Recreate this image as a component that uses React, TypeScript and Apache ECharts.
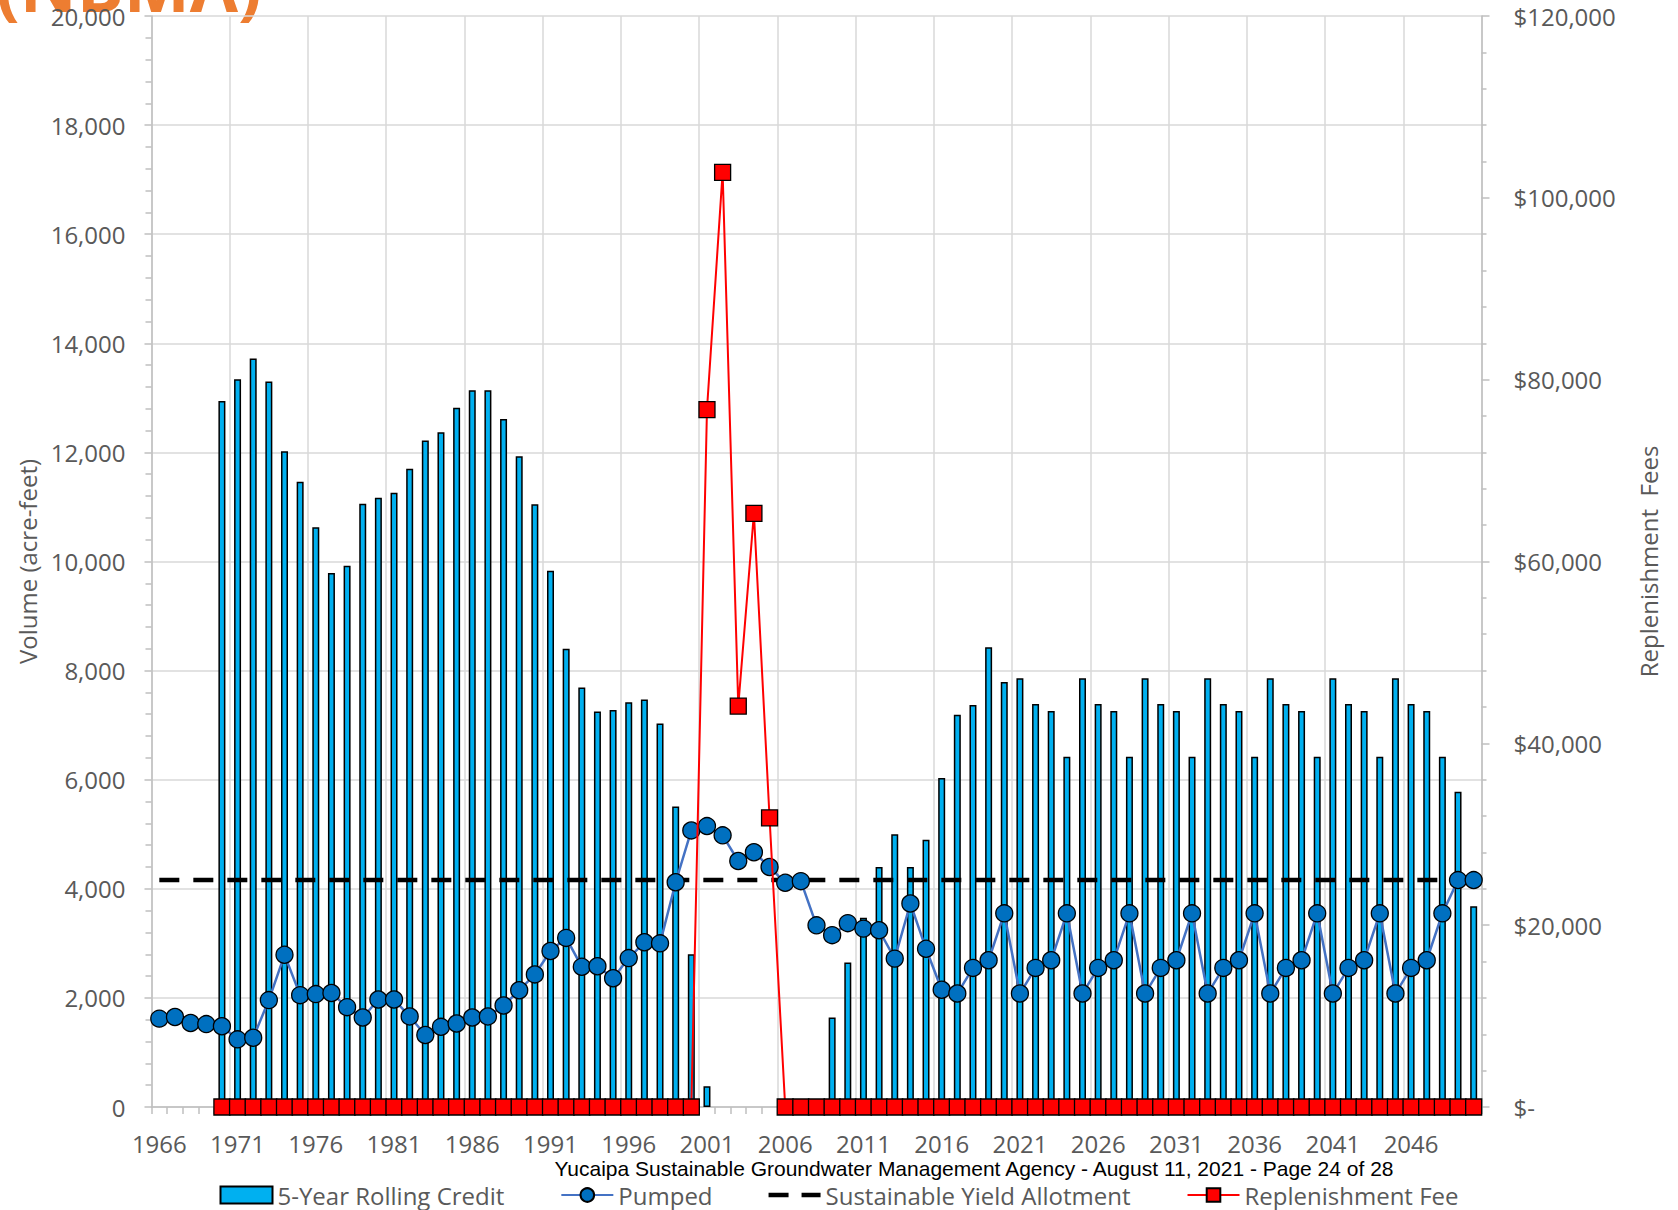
import { useEffect, useRef } from "react";
import * as echarts from "echarts";

const years = [
  "1966", "1967", "1968", "1969", "1970", "1971", "1972", "1973", "1974", "1975",
  "1976", "1977", "1978", "1979", "1980", "1981", "1982", "1983", "1984", "1985",
  "1986", "1987", "1988", "1989", "1990", "1991", "1992", "1993", "1994", "1995",
  "1996", "1997", "1998", "1999", "2000", "2001", "2002", "2003", "2004", "2005",
  "2006", "2007", "2008", "2009", "2010", "2011", "2012", "2013", "2014", "2015",
  "2016", "2017", "2018", "2019", "2020", "2021", "2022", "2023", "2024", "2025",
  "2026", "2027", "2028", "2029", "2030", "2031", "2032", "2033", "2034", "2035",
  "2036", "2037", "2038", "2039", "2040", "2041", "2042", "2043", "2044", "2045",
  "2046", "2047", "2048", "2049", "2050",
];

// 5-Year Rolling Credit (acre-feet)
const rollingCredit: (number | null)[] = [
  null, null, null, null,
  12940, 13340, 13720, 13300, 12020, 11460, 10630, 9790, 9920, 11060,
  11170, 11260, 11700, 12220, 12370, 12820, 13140, 13140, 12610, 11930,
  11050, 9830, 8400, 7690, 7250, 7280, 7420, 7470, 7030, 5510,
  2800, 380,
  null, null, null, null, null, null, null,
  1640, 2650, 3470, 4400, 5000, 4400, 4900, 6030, 7190, 7370,
  8430, 7790, 7860, 7390, 7260, 6420,
  7860, 7390, 7260, 6420, 7860, 7390, 7260, 6420,
  7860, 7390, 7260, 6420, 7860, 7390, 7260, 6420,
  7860, 7390, 7260, 6420, 7860, 7390, 7260, 6420,
  5780, 3680,
];

// Pumped (acre-feet)
const pumped: number[] = [
  1620, 1650, 1540, 1520, 1480, 1240, 1270, 1960, 2790, 2050,
  2070, 2090, 1830, 1640, 1970, 1970, 1660, 1320, 1470, 1530,
  1640, 1660, 1860, 2140, 2430, 2860, 3100, 2570, 2580, 2360,
  2730, 3020, 3000, 4120, 5070, 5150, 4980, 4510, 4670, 4400,
  4110, 4140, 3330, 3150, 3370, 3270, 3240, 2720, 3730, 2900,
  2150, 2080, 2550, 2690, 3550,
  2080, 2550, 2690, 3550, 2080, 2550, 2690, 3550,
  2080, 2550, 2690, 3550, 2080, 2550, 2690, 3550,
  2080, 2550, 2690, 3550, 2080, 2550, 2690, 3550,
  2080, 2550, 2690, 3550,
  4160, 4160,
];

// Sustainable Yield Allotment (acre-feet), constant
const sustainableYield = 4160;

// Replenishment Fee ($)
const replenishmentFee: (number | null)[] = [
  null, null, null, null,
  0, 0, 0, 0, 0, 0, 0, 0, 0, 0,
  0, 0, 0, 0, 0, 0, 0, 0, 0, 0,
  0, 0, 0, 0, 0, 0, 0, 0, 0, 0,
  0,
  76700, 102800, 44100, 65300, 31800,
  0, 0, 0, 0, 0, 0, 0, 0, 0, 0,
  0, 0, 0, 0, 0, 0, 0, 0, 0, 0,
  0, 0, 0, 0, 0, 0, 0, 0, 0, 0,
  0, 0, 0, 0, 0, 0, 0, 0, 0, 0,
  0, 0, 0, 0, 0,
];

const volumeAxis = { min: 0, max: 20000, interval: 2000 };
const feeAxis = { min: 0, max: 120000, interval: 20000 };

const titleText = "(NBMA)";
const captionText =
  "Yucaipa Sustainable Groundwater Management Agency - August 11, 2021 - Page 24 of 28";

const GRAY_TEXT = "#595959";
const AXIS_GRAY = "#BFBFBF";
const GRID_GRAY = "#D9D9D9";
const FONT = "'Open Sans', sans-serif";

// legend icon: two black dashes
const DASH_ICON = "path://M0,0L20,0L20,4.5L0,4.5Z M33,0L52,0L52,4.5L33,4.5Z";

export default function App() {
  const ref = useRef<HTMLDivElement | null>(null);

  useEffect(() => {
    if (!ref.current) return;
    const chart = echarts.init(ref.current, undefined, { renderer: "svg" });

    const yieldLine = years.map(() => sustainableYield);

    const option: any = {
      animation: false,
      backgroundColor: "#ffffff",
      textStyle: { fontFamily: FONT },
      grid: { left: 151.5, top: 16, width: 1330, height: 1091, containLabel: false },
      xAxis: {
        type: "category",
        data: years,
        boundaryGap: true,
        axisLine: { show: true, lineStyle: { color: AXIS_GRAY, width: 1.5 } },
        axisTick: { show: true, interval: 0, length: 7, lineStyle: { color: AXIS_GRAY, width: 1.5 } },
        axisLabel: { interval: 4, margin: 24, fontSize: 24, color: GRAY_TEXT, fontFamily: FONT },
        splitLine: { show: true, interval: 4, lineStyle: { color: GRID_GRAY, width: 1.5 } },
      },
      yAxis: [
        {
          type: "value",
          min: volumeAxis.min,
          max: volumeAxis.max,
          interval: volumeAxis.interval,
          name: "Volume (acre-feet)",
          nameLocation: "middle",
          nameRotate: 90,
          nameGap: 112,
          nameTextStyle: { fontSize: 24, color: GRAY_TEXT, fontFamily: FONT },
          axisLine: { show: true, lineStyle: { color: AXIS_GRAY, width: 1.5 } },
          axisTick: { show: true, length: 7, lineStyle: { color: AXIS_GRAY, width: 1.5 } },
          minorTick: { show: true, splitNumber: 5, length: 6, lineStyle: { color: AXIS_GRAY, width: 1.5 } },
          axisLabel: {
            margin: 26,
            fontSize: 24,
            color: GRAY_TEXT,
            fontFamily: FONT,
            formatter: (v: number) => v.toLocaleString("en-US"),
          },
          splitLine: { show: true, lineStyle: { color: GRID_GRAY, width: 1.5 } },
        },
        {
          type: "value",
          position: "right",
          min: feeAxis.min,
          max: feeAxis.max,
          interval: feeAxis.interval,
          name: "Replenishment  Fees",
          nameLocation: "middle",
          nameRotate: 90,
          nameGap: 155,
          nameTextStyle: { fontSize: 24, color: GRAY_TEXT, fontFamily: FONT },
          axisLine: { show: true, lineStyle: { color: AXIS_GRAY, width: 1.5 } },
          axisTick: { show: true, length: 8, lineStyle: { color: AXIS_GRAY, width: 1.5 } },
          minorTick: { show: true, splitNumber: 5, length: 5, lineStyle: { color: AXIS_GRAY, width: 1.5 } },
          axisLabel: {
            margin: 32,
            fontSize: 24,
            color: GRAY_TEXT,
            fontFamily: FONT,
            formatter: (v: number) => (v === 0 ? "$-" : "$" + v.toLocaleString("en-US")),
          },
          splitLine: { show: false },
        },
      ],
      legend: {
        left: "center",
        top: 1178,
        itemWidth: 52,
        itemHeight: 17,
        itemGap: 56,
        textStyle: { fontSize: 24, color: GRAY_TEXT, fontFamily: FONT },
        data: [
          { name: "5-Year Rolling Credit", icon: "rect" },
          { name: "Pumped" },
          { name: "Sustainable Yield Allotment", icon: DASH_ICON, itemStyle: { color: "#000000" } },
          { name: "Replenishment Fee" },
        ],
      },
      series: [
        {
          name: "5-Year Rolling Credit",
          type: "bar",
          data: rollingCredit,
          barWidth: 7,
          itemStyle: { color: "#00B0F0", borderColor: "#000000", borderWidth: 1.5 },
          z: 2,
        },
        {
          name: "Sustainable Yield Allotment",
          type: "line",
          data: yieldLine,
          symbol: "none",
          showSymbol: false,
          lineStyle: { color: "#000000", width: 4.5, type: [20, 14], cap: "butt" },
          itemStyle: { color: "#000000" },
          z: 3,
        },
        {
          name: "Pumped",
          type: "line",
          data: pumped,
          symbol: "circle",
          symbolSize: 17,
          showAllSymbol: true,
          lineStyle: { color: "#4472C4", width: 2.5 },
          itemStyle: { color: "#0070C0", borderColor: "#000000", borderWidth: 1.3 },
          z: 4,
        },
        {
          name: "Replenishment Fee",
          type: "line",
          yAxisIndex: 1,
          data: replenishmentFee,
          symbol: "rect",
          symbolSize: 16,
          showAllSymbol: true,
          clip: false,
          lineStyle: { color: "#FF0000", width: 2 },
          itemStyle: { color: "#FF0000", borderColor: "#000000", borderWidth: 1.3 },
          z: 5,
        },
      ],
      graphic: [
        {
          type: "text",
          x: -4,
          y: -15,
          silent: true,
          style: {
            text: titleText,
            fill: "#ED7D31",
            fontSize: 70,
            fontWeight: "bold",
            fontFamily: FONT,
            align: "left",
            verticalAlign: "middle",
          },
        },
        {
          type: "text",
          x: 974,
          y: 1168,
          silent: true,
          style: {
            text: captionText,
            fill: "#000000",
            fontSize: 21,
            fontFamily: "'Liberation Sans', Arial, sans-serif",
            align: "center",
            verticalAlign: "middle",
          },
        },
      ],
    };

    chart.setOption(option);
    return () => {
      chart.dispose();
    };
  }, []);

  return (
    <div
      ref={ref}
      style={{ position: "fixed", left: 0, top: 0, width: 1678, height: 1210, background: "#fff" }}
    />
  );
}
